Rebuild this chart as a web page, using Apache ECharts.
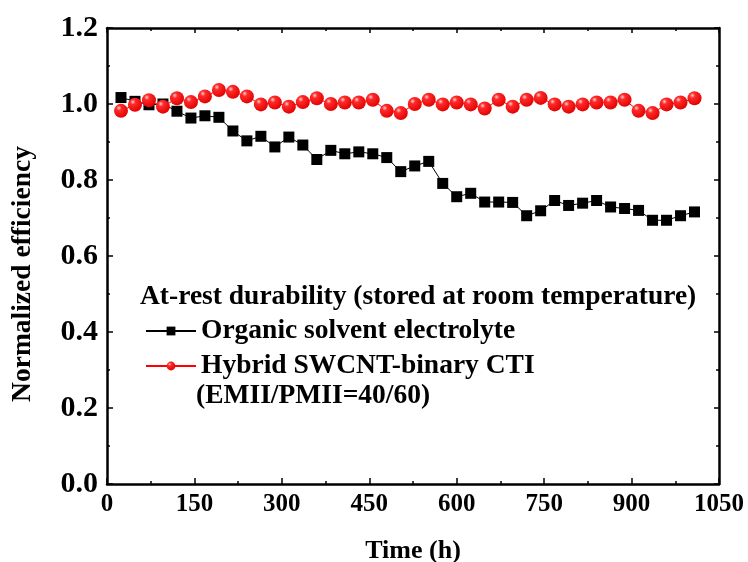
<!DOCTYPE html>
<html>
<head>
<meta charset="utf-8">
<script src="https://cdn.jsdelivr.net/npm/echarts@6/dist/echarts.min.js"></script>
<style>
  html, body { margin: 0; padding: 0; background: #fff; }
  #chart { width: 748px; height: 562px; }
</style>
</head>
<body>
<div id="chart"></div>
<script>
// Storage time in hours (one measurement per day)
const hours = [24, 48, 72, 96, 120, 144, 168, 192, 216, 240, 264, 288, 312, 336,
  360, 384, 408, 432, 456, 480, 504, 528, 552, 576, 600, 624, 648, 672, 696, 720,
  744, 768, 792, 816, 840, 864, 888, 912, 936, 960, 984, 1008];

// Normalized efficiency, organic solvent electrolyte
const organicEff = [1.017, 1.007, 0.998, 1.000, 0.981, 0.963, 0.969, 0.965, 0.929, 0.903,
  0.915, 0.887, 0.913, 0.892, 0.854, 0.878, 0.869, 0.874, 0.869, 0.859,
  0.822, 0.837, 0.849, 0.791, 0.756, 0.765, 0.742, 0.742, 0.741, 0.706,
  0.719, 0.746, 0.733, 0.739, 0.746, 0.729, 0.725, 0.720, 0.694, 0.694,
  0.706, 0.716];

// Normalized efficiency, hybrid SWCNT-binary CTI
const hybridEff = [0.982, 0.998, 1.010, 0.993, 1.015, 1.005, 1.020, 1.037, 1.032, 1.020,
  0.999, 1.004, 0.993, 1.005, 1.015, 1.000, 1.004, 1.004, 1.011, 0.982,
  0.976, 1.000, 1.011, 0.999, 1.004, 0.999, 0.988, 1.011, 0.993, 1.011,
  1.016, 0.999, 0.993, 0.999, 1.004, 1.004, 1.011, 0.982, 0.976, 0.999,
  1.004, 1.015];

const xTicks = { min: 0, max: 1050, interval: 150 };
const yTicks = { min: 0, max: 1.2, interval: 0.2 };

const seriesNames = ['Organic solvent electrolyte', 'Hybrid SWCNT-binary CTI'];
const legendTitle = 'At-rest durability (stored at room temperature)';
const legendSubline = '(EMII/PMII=40/60)';

const FONT = '"Liberation Serif", "Times New Roman", serif';

const chart = echarts.init(document.getElementById('chart'), null, { renderer: 'canvas' });

const pair = (xs, ys) => xs.map((x, i) => [x, ys[i]]);

const sphere = new echarts.graphic.RadialGradient(0.35, 0.3, 0.75, [
  { offset: 0, color: '#ffd0d0' },
  { offset: 0.25, color: '#ff2a2a' },
  { offset: 1, color: '#e00000' }
]);

const axisLine = { show: true, onZero: false, lineStyle: { color: '#000', width: 2.5 } };
const mirrorAxis = {
  axisLine: axisLine,
  axisTick: { show: true, inside: true, length: 5, lineStyle: { color: '#000', width: 1.5 } },
  minorTick: { show: true, splitNumber: 2, length: 3, lineStyle: { color: '#000', width: 1.5 } },
  axisLabel: { show: false },
  splitLine: { show: false }
};

chart.setOption({
  animation: false,
  backgroundColor: '#fff',
  grid: { left: 107, right: 29, top: 28, bottom: 78, containLabel: false, outerBoundsMode: 'none' },
  xAxis: [
    {
      type: 'value', position: 'bottom',
      min: xTicks.min, max: xTicks.max, interval: xTicks.interval,
      name: 'Time (h)', nameLocation: 'middle', nameGap: 54,
      nameTextStyle: { fontFamily: FONT, fontWeight: 'bold', fontSize: 26, color: '#000' },
      axisLine: axisLine,
      axisTick: { show: true, inside: true, length: 6, lineStyle: { color: '#000', width: 1.5 } },
      minorTick: { show: true, splitNumber: 2, length: 3, lineStyle: { color: '#000', width: 1.5 } },
      axisLabel: { fontFamily: FONT, fontWeight: 'bold', fontSize: 25, color: '#000', margin: 8,
        formatter: v => String(v) },
      splitLine: { show: false }
    },
    Object.assign({ type: 'value', position: 'top', min: xTicks.min, max: xTicks.max, interval: xTicks.interval }, mirrorAxis)
  ],
  yAxis: [
    {
      type: 'value', position: 'left',
      min: yTicks.min, max: yTicks.max, interval: yTicks.interval,
      name: 'Normalized efficiency', nameLocation: 'middle', nameGap: 70,
      nameTextStyle: { fontFamily: FONT, fontWeight: 'bold', fontSize: 27.5, color: '#000',
        padding: [0, 36, 0, 0] },
      axisLine: axisLine,
      axisTick: { show: true, inside: true, length: 6, lineStyle: { color: '#000', width: 1.5 } },
      minorTick: { show: true, splitNumber: 2, length: 3, lineStyle: { color: '#000', width: 1.5 } },
      axisLabel: { fontFamily: FONT, fontWeight: 'bold', fontSize: 30, color: '#000', margin: 9,
        formatter: v => v.toFixed(1) },
      splitLine: { show: false }
    },
    Object.assign({ type: 'value', position: 'right', min: yTicks.min, max: yTicks.max, interval: yTicks.interval }, mirrorAxis)
  ],
  legend: {
    show: true,
    orient: 'vertical',
    left: 140, top: 312,
    itemWidth: 50, itemHeight: 11, itemGap: 7,
    textStyle: { fontFamily: FONT, fontWeight: 'bold', fontSize: 27.5, color: '#000', lineHeight: 28 },
    data: seriesNames
  },
  graphic: [
    { type: 'text', x: 140, y: 297,
      style: { text: legendTitle, font: 'bold 27.5px ' + FONT, fill: '#000', verticalAlign: 'middle' } },
    { type: 'text', x: 196, y: 396,
      style: { text: legendSubline, font: 'bold 27.5px ' + FONT, fill: '#000', verticalAlign: 'middle' } }
  ],
  series: [
    {
      name: seriesNames[0], type: 'line',
      data: pair(hours, organicEff),
      symbol: 'rect', symbolSize: 11,
      lineStyle: { color: '#000', width: 1 },
      itemStyle: { color: '#000' },
      z: 2
    },
    {
      name: seriesNames[1], type: 'line',
      data: pair(hours, hybridEff),
      symbol: 'circle', symbolSize: 14,
      lineStyle: { color: '#ff0000', width: 1 },
      itemStyle: { color: sphere },
      z: 3
    }
  ]
});
</script>
</body>
</html>
